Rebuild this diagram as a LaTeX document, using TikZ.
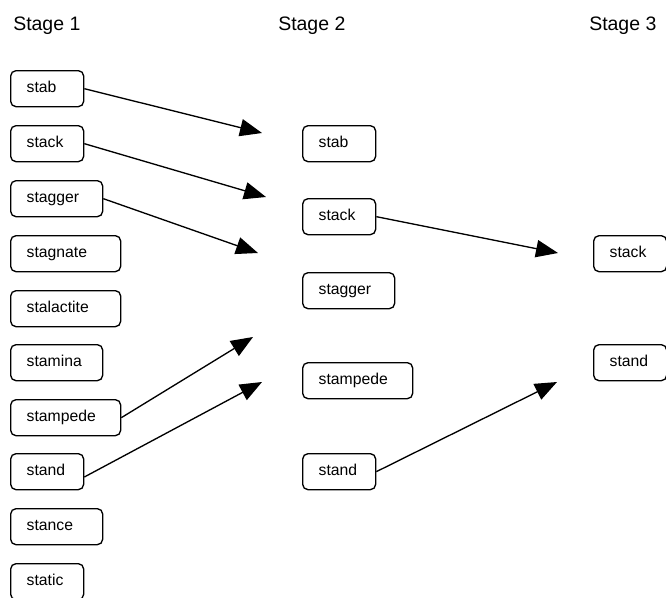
\documentclass[tikz,border=0pt]{standalone}
\usepackage{fontspec}
\setmainfont{Liberation Sans}
\usetikzlibrary{arrows.meta}
\tikzset{
  wordbox/.style={draw, line width=1pt, rounded corners=4pt, minimum height=27pt,
    inner xsep=12pt, inner ysep=0pt, anchor=north west, align=left,
    text height=8.6pt, text depth=2.6pt,
    font=\fontsize{11.8pt}{13pt}\selectfont},
  wA/.style={text width=30.75pt},
  wB/.style={text width=45pt},
  wC/.style={text width=58.5pt},
  header/.style={anchor=base west, inner sep=0pt, font=\fontsize{14.6pt}{16pt}\selectfont},
  link/.style={line width=1pt, -{Triangle[length=16.5pt,width=13pt]}}
}
\begin{document}
\begin{tikzpicture}[x=0.75pt,y=-0.75pt]
\useasboundingbox (0,0) rectangle (666,597);
\clip (0,0) rectangle (666,597);
% headers
\node[header] (h1) at (13,30) {Stage 1};
\node[header] (h2) at (278,30) {Stage 2};
\node[header] (h3) at (589,30) {Stage 3};
% stage 1
\node[wordbox,wA] (a1) at (10,70) {stab};
\node[wordbox,wA] (a2) at (10,125) {stack};
\node[wordbox,wB] (a3) at (10,180) {stagger};
\node[wordbox,wC] (a4) at (10,235) {stagnate};
\node[wordbox,wC] (a5) at (10,290) {stalactite};
\node[wordbox,wB] (a6) at (10,344) {stamina};
\node[wordbox,wC] (a7) at (10,399) {stampede};
\node[wordbox,wA] (a8) at (10,453) {stand};
\node[wordbox,wB] (a9) at (10,508) {stance};
\node[wordbox,wA] (a10) at (10,563) {static};
% stage 2
\node[wordbox,wA] (b1) at (302,125) {stab};
\node[wordbox,wA] (b2) at (302,198) {stack};
\node[wordbox,wB] (b3) at (302,272) {stagger};
\node[wordbox,wC] (b4) at (302,362) {stampede};
\node[wordbox,wA] (b5) at (302,453) {stand};
% stage 3
\node[wordbox,wA] (c1) at (593,235) {stack};
\node[wordbox,wA] (c2) at (593,344) {stand};
% arrow ends
\coordinate (t1) at (262,133);
\coordinate (t2) at (266,197);
\coordinate (t3) at (258,253);
\coordinate (t4) at (253,337);
\coordinate (t5) at (262,382);
\coordinate (t6) at (558,253);
\coordinate (t7) at (557,382);
\draw[link] (a1.east) -- (t1);
\draw[link] (a2.east) -- (t2);
\draw[link] (a3.east) -- (t3);
\draw[link] (a7.east) -- (t4);
\draw[link] ([yshift=-4pt]a8.east) -- (t5);
\draw[link] (b2.east) -- (t6);
\draw[link] (b5.east) -- (t7);
\end{tikzpicture}
\end{document}
